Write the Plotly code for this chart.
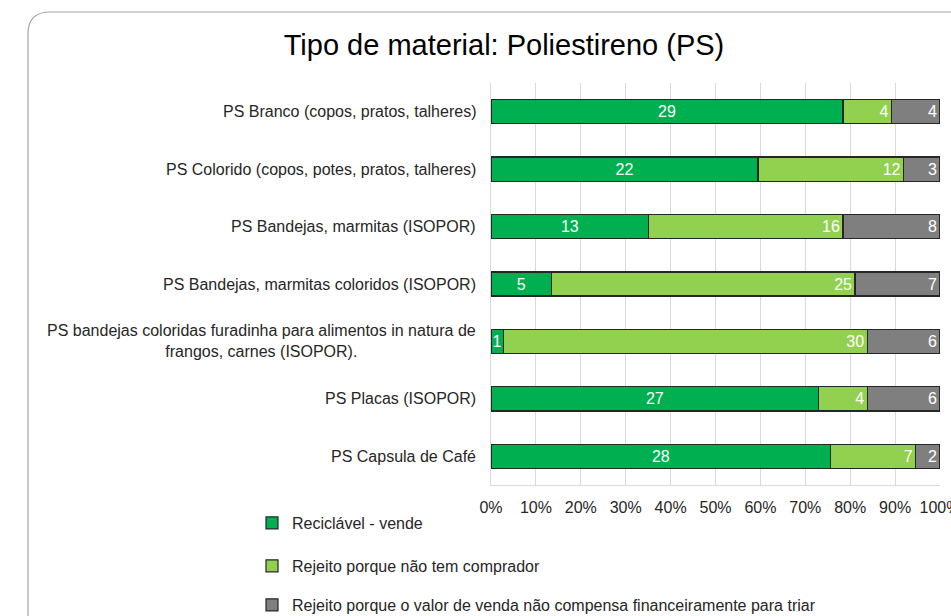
import plotly.graph_objects as go

# Categories (top to bottom) and counts per destination
categories = [
    "PS Branco (copos, pratos, talheres)",
    "PS Colorido (copos, potes, pratos, talheres)",
    "PS Bandejas, marmitas (ISOPOR)",
    "PS Bandejas, marmitas coloridos (ISOPOR)",
    "PS bandejas coloridas furadinha para alimentos in natura de<br>frangos, carnes (ISOPOR).",
    "PS Placas (ISOPOR)",
    "PS Capsula de Café",
]
reciclavel_vende = [29, 22, 13, 5, 1, 27, 28]
rejeito_sem_comprador = [4, 12, 16, 25, 30, 4, 7]
rejeito_nao_compensa = [4, 3, 8, 7, 6, 6, 2]

series_names = [
    "Reciclável - vende",
    "Rejeito porque não tem comprador",
    "Rejeito porque o valor de venda não compensa financeiramente para triar",
]
series_values = [reciclavel_vende, rejeito_sem_comprador, rejeito_nao_compensa]
series_colors = ["#00B050", "#92D050", "#7F7F7F"]
text_anchors = ["middle", "end", "end"]

tick_vals = [i / 10 for i in range(11)]
tick_text = [f"{i * 10}%" for i in range(11)]

W, H = 951, 616
FONT = "Liberation Sans, Arial, sans-serif"
TXT = "#262626"

fig = go.Figure()
legend_ids = ["legend", "legend2", "legend3"]
for name, vals, color, anchor, lg in zip(series_names, series_values, series_colors,
                                          text_anchors, legend_ids):
    fig.add_trace(go.Bar(
        y=categories, x=vals, name=name, orientation="h",
        marker=dict(color=color, line=dict(color="#262626", width=1.2)),
        text=[str(v) for v in vals], textposition="inside",
        insidetextanchor=anchor,
        textfont=dict(color="white", size=16, family=FONT),
        legend=lg, hoverinfo="skip",
    ))

# category labels, right-aligned next to the axis
for cat in categories:
    fig.add_annotation(
        text=cat, xref="paper", x=478 / W, xanchor="right",
        yref="y", y=cat, yanchor="middle", showarrow=False,
        align="center" if "<br>" in cat else "right",
        font=dict(size=16, color=TXT, family=FONT),
    )

# rounded outer frame
rx, ry = 22 / W, 22 / H
x0, y0 = 28 / W, 1 - 12 / H
fig.add_shape(
    type="path", xref="paper", yref="paper",
    path=(f"M {x0},-0.1 L {x0},{y0 - ry} Q {x0},{y0} {x0 + rx},{y0} "
          f"L 1.1,{y0}"),
    line=dict(color="#A6A6A6", width=1.2), layer="below",
)

legend_y = [523, 566, 605]
legend_cfg = {}
for lg, yy in zip(legend_ids, legend_y):
    legend_cfg[lg] = dict(
        x=252 / W, xanchor="left", y=1 - yy / H, yanchor="middle",
        font=dict(size=16, color=TXT, family=FONT), itemwidth=30,
        bgcolor="rgba(0,0,0,0)", itemclick=False, itemdoubleclick=False,
    )

fig.update_layout(
    width=W, height=H,
    margin=dict(l=0, r=0, t=0, b=0, autoexpand=False),
    paper_bgcolor="white", plot_bgcolor="white",
    barmode="stack", barnorm="fraction", bargap=0.58,
    showlegend=True,
    title=dict(
        text="Tipo de material: Poliestireno (PS)",
        x=504 / W, xanchor="center", xref="paper",
        y=1 - 45 / H, yanchor="middle", yref="paper",
        font=dict(size=29, color="#000000", family=FONT),
    ),
    xaxis=dict(
        domain=[491 / W, 940 / W], range=[0, 1],
        tickvals=tick_vals, ticktext=tick_text,
        showgrid=True, gridcolor="#D9D9D9", gridwidth=1,
        showline=True, linecolor="#D9D9D9", linewidth=1,
        zeroline=False, ticks="", ticklabelstandoff=8,
        ticklabeloverflow="allow", automargin=False,
        tickfont=dict(size=16, color=TXT, family=FONT),
    ),
    yaxis=dict(
        domain=[1 - 485 / H, 1 - 83 / H], automargin=False,
        autorange="reversed", showticklabels=False,
        showgrid=False, showline=True, linecolor="#D9D9D9", linewidth=1,
        ticks="",
    ),
    uniformtext=dict(minsize=16, mode="show"),
    **legend_cfg,
)

fig.write_html("out.html")
